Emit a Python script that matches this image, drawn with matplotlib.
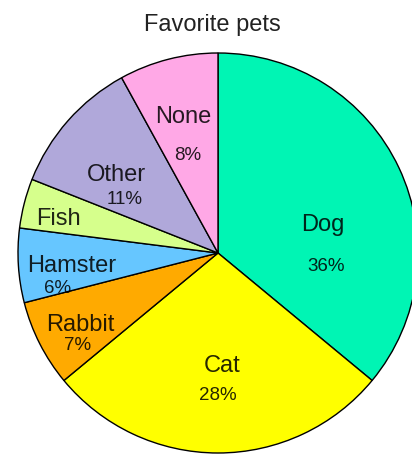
import matplotlib
matplotlib.use("Agg")
import matplotlib.pyplot as plt

plt.rcParams['font.family'] = ['Liberation Sans', 'DejaVu Sans']

# Data
pets = ['Dog', 'Cat', 'Rabbit', 'Hamster', 'Fish', 'Other', 'None']
shares = [36, 28, 7, 6, 4, 11, 8]
show_pct = [True, True, True, True, False, True, True]
colors = ['#00F5B4', '#FFFF00', '#FFAA00', '#66C6FF', '#D6FF8C', '#B0A8DA', '#FFA8E6']

# label placement (data units, baseline)
name_pos = [(0.525, 0.11), (0.02, -0.595), (-0.69, -0.39), (-0.73, -0.095),
            (-0.80, 0.14), (-0.51, 0.36), (-0.175, 0.65)]
pct_pos = [(0.54, -0.09), (0.0, -0.735), (-0.70, -0.485), (-0.80, -0.20),
           None, (-0.465, 0.245), (-0.15, 0.465)]

fig = plt.figure(figsize=(4.12, 4.54), dpi=100)
ax = fig.add_axes([18 / 412, 1 / 454, 400 / 412, 400 / 454])

wedges, _ = ax.pie(shares, colors=colors, startangle=90, counterclock=False,
                   wedgeprops={'edgecolor': 'black', 'linewidth': 1.0})
for w in wedges:
    w.set_clip_on(False)
ax.set_xlim(-1, 1)
ax.set_ylim(-1, 1)
ax.set_axis_off()

for name, share, show, npos, ppos in zip(pets, shares, show_pct, name_pos, pct_pos):
    ax.text(npos[0], npos[1], name, ha='center', va='baseline',
            fontsize=17, color='black', alpha=0.85)
    if show:
        ax.text(ppos[0], ppos[1], f'{share}%', ha='center', va='baseline',
                fontsize=13.5, color='black', alpha=0.85)

fig.text(212 / 412, 1 - 31 / 454, 'Favorite pets', ha='center', va='baseline',
         fontsize=17, color='#222222')

fig.savefig('out.png', dpi=100)
